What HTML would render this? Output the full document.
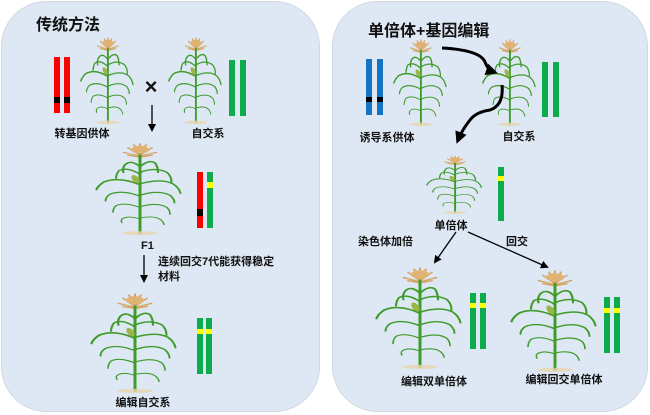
<!DOCTYPE html>
<html><head><meta charset="utf-8"><style>
body{margin:0;width:650px;height:415px;background:#fff;overflow:hidden;font-family:"Liberation Sans","Noto Sans CJK SC",sans-serif}
svg{display:block}
text{font-family:"Liberation Sans","Noto Sans CJK SC",sans-serif;font-weight:bold;fill:#111}
</style></head><body>
<svg width="650" height="415" viewBox="0 0 650 415">
<defs>
<g id="plant">
  <g stroke="#d4a461" stroke-width="1.3" fill="none" stroke-linecap="round">
    <path d="M30 16 L30 2 M30 14 L22 6 M30 14 L38 6 M30 15 L19 11 M30 15 L41 11 M30 13 L26 3 M30 13 L34 3 M30 16 L22 14 M30 16 L38 14"/>
  </g>
  <g fill="#e0b273"><ellipse cx="30" cy="8" rx="6" ry="4"/></g>
  <g stroke="#3f9b2a" fill="none" stroke-linecap="round">
    <path d="M30 14 L30 96" stroke-width="2"/>
    <path d="M30 26 Q24 18 20 24 Q18 28 19 32" stroke-width="1.5"/>
    <path d="M30 26 Q36 18 40 22 Q42 26 42 32" stroke-width="1.5"/>
    <path d="M30 34 Q22 26 16 30 Q14 34 14 38" stroke-width="1.4"/>
    <path d="M30 32 Q40 26 48 32 Q51 36 51 42" stroke-width="1.4"/>
    <path d="M30 45 Q16 36 6 42 Q2 46 1 50" stroke-width="1.6"/>
    <path d="M30 44 Q44 38 52 44 Q56 48 57 54" stroke-width="1.4"/>
    <path d="M30 57 Q18 50 10 55 Q7 58 7 62" stroke-width="1.3"/>
    <path d="M30 56 Q42 50 50 56 Q53 60 53 64" stroke-width="1.3"/>
    <path d="M30 69 Q20 63 14 67 Q12 70 12 74" stroke-width="1.1"/>
    <path d="M30 68 Q42 63 48 69 Q50 72 50 76" stroke-width="1.1"/>
    <path d="M30 81 Q22 77 18 81 Q17 83 18 85" stroke-width="1"/>
    <path d="M30 80 Q40 77 44 82 Q46 85 46 87" stroke-width="1"/>
  </g>
  <ellipse cx="27" cy="39" rx="2.3" ry="4.5" fill="#9bb54a" transform="rotate(-25 27 39)"/>
  <ellipse cx="30" cy="96" rx="12" ry="2" fill="#e6d3ad" opacity="0.8"/>
</g>
<marker id="ah" markerWidth="8" markerHeight="8" refX="6" refY="4" orient="auto" markerUnits="userSpaceOnUse"><path d="M0 0 L8 4 L0 8 Z" fill="#000"/></marker>
<marker id="ahb" markerWidth="12" markerHeight="12" refX="8" refY="6" orient="auto" markerUnits="userSpaceOnUse"><path d="M0 0 L12 6 L0 12 Z" fill="#000"/></marker>
</defs>

<rect x="1.5" y="1.5" width="318" height="410" rx="45" fill="#dee8f4" stroke="#cfd8e2"/>
<rect x="332.5" y="1.5" width="315" height="410" rx="45" fill="#dee8f4" stroke="#cfd8e2"/>

<!-- LEFT -->
<text x="36" y="30" font-size="16">传统方法</text>
<use href="#plant" transform="translate(80,36) scale(0.93,0.9)"/>
<use href="#plant" transform="translate(168,36) scale(0.93,0.9)"/>
<rect x="54" y="57" width="6" height="56" fill="#f00"/><rect x="64" y="57" width="6" height="56" fill="#f00"/>
<rect x="54" y="97" width="6" height="6" fill="#000"/><rect x="64" y="97" width="6" height="6" fill="#000"/>
<rect x="229" y="60" width="6" height="56" fill="#0cab4b"/><rect x="240" y="60" width="6" height="56" fill="#0cab4b"/>
<text x="151" y="94" font-size="22" text-anchor="middle">×</text>
<line x1="152" y1="105" x2="152" y2="130" stroke="#000" stroke-width="1.3" marker-end="url(#ah)"/>
<text x="82" y="137" font-size="11" text-anchor="middle">转基因供体</text>
<text x="208" y="137" font-size="11" text-anchor="middle">自交系</text>

<use href="#plant" transform="translate(95,142) scale(1.5,0.95)"/>
<rect x="197" y="172" width="6" height="56" fill="#f00"/><rect x="197" y="209" width="6" height="7" fill="#000"/>
<rect x="207" y="172" width="6" height="56" fill="#0cab4b"/><rect x="207" y="182" width="6" height="6" fill="#ff0"/>
<text x="141" y="249" font-size="11">F1</text>
<line x1="144" y1="255" x2="144" y2="281" stroke="#000" stroke-width="1.3" marker-end="url(#ah)"/>
<text x="158" y="265" font-size="11">连续回交7代能获得稳定</text>
<text x="158" y="280" font-size="11">材料</text>

<use href="#plant" transform="translate(90,292) scale(1.5,1.03)"/>
<rect x="197" y="318" width="6" height="56" fill="#0cab4b"/><rect x="206" y="318" width="6" height="56" fill="#0cab4b"/>
<rect x="197" y="329" width="6" height="5" fill="#ff0"/><rect x="206" y="329" width="6" height="5" fill="#ff0"/>
<text x="143" y="406" font-size="11" text-anchor="middle">编辑自交系</text>

<!-- RIGHT -->
<text x="368" y="36" font-size="16">单倍体+基因编辑</text>
<use href="#plant" transform="translate(393,38) scale(0.93,0.9)"/>
<use href="#plant" transform="translate(482,38) scale(0.93,0.9)"/>
<rect x="366" y="59" width="6" height="56" fill="#1573c4"/><rect x="377" y="59" width="6" height="56" fill="#1573c4"/>
<rect x="366" y="97" width="6" height="5" fill="#000"/><rect x="377" y="97" width="6" height="5" fill="#000"/>
<rect x="542" y="62" width="6" height="55" fill="#0cab4b"/><rect x="553" y="62" width="6" height="55" fill="#0cab4b"/>
<text x="387" y="141" font-size="11" text-anchor="middle">诱导系供体</text>
<text x="519" y="140" font-size="11" text-anchor="middle">自交系</text>
<path d="M442 48 Q480 50 485 62 Q488 70 494 72" stroke="#000" stroke-width="3" fill="none" marker-end="url(#ahb)"/>
<path d="M502 85 Q504 105 490 110 Q476 112 470 120 Q462 130 458 140" stroke="#000" stroke-width="3" fill="none" marker-end="url(#ahb)"/>

<use href="#plant" transform="translate(426,155) scale(0.97,0.6)"/>
<rect x="498" y="167" width="6" height="54" fill="#0cab4b"/><rect x="498" y="176" width="6" height="5" fill="#ff0"/>
<text x="451" y="229" font-size="11" text-anchor="middle">单倍体</text>
<text x="358" y="245" font-size="11">染色体加倍</text>
<text x="506" y="245" font-size="11">回交</text>
<line x1="456" y1="232" x2="435" y2="262" stroke="#000" stroke-width="1.3" marker-end="url(#ah)"/>
<line x1="468" y1="232" x2="547" y2="267" stroke="#000" stroke-width="1.3" marker-end="url(#ah)"/>

<use href="#plant" transform="translate(375,266) scale(1.5,1.05)"/>
<use href="#plant" transform="translate(510,269) scale(1.5,1.05)"/>
<rect x="470" y="293" width="6" height="56" fill="#0cab4b"/><rect x="480" y="293" width="6" height="56" fill="#0cab4b"/>
<rect x="470" y="303" width="6" height="5" fill="#ff0"/><rect x="480" y="303" width="6" height="5" fill="#ff0"/>
<rect x="604" y="297" width="6" height="56" fill="#0cab4b"/><rect x="614" y="297" width="6" height="56" fill="#0cab4b"/>
<rect x="604" y="308" width="6" height="5" fill="#ff0"/><rect x="614" y="308" width="6" height="5" fill="#ff0"/>
<text x="434" y="385" font-size="11" text-anchor="middle">编辑双单倍体</text>
<text x="564" y="383" font-size="11" text-anchor="middle">编辑回交单倍体</text>
</svg>
</body></html>
